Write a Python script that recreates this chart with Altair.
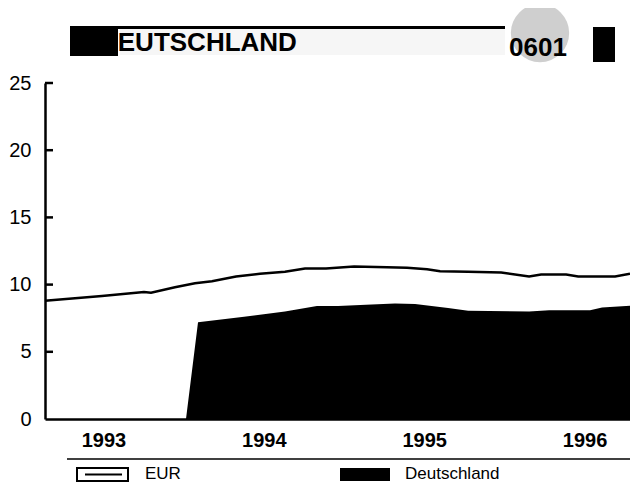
import altair as alt
import pandas as pd

# ---- data ----
eur_years = [1993.136, 1993.491, 1993.753, 1993.797, 1993.946, 1994.071, 1994.177,
             1994.327, 1994.476, 1994.632, 1994.757, 1994.888, 1995.063, 1995.268,
             1995.393, 1995.518, 1995.599, 1995.774, 1995.980, 1996.154, 1996.229,
             1996.385, 1996.460, 1996.690, 1996.783]
eur_values = [8.8, 9.15, 9.45, 9.4, 9.8, 10.1, 10.25, 10.6, 10.8, 10.95, 11.2, 11.2,
              11.35, 11.3, 11.25, 11.15, 11.0, 10.95, 10.9, 10.6, 10.75, 10.75, 10.6,
              10.6, 10.8]

de_years = [1993.136, 1994.015, 1994.090, 1994.377, 1994.632, 1994.831, 1994.963,
            1995.137, 1995.318, 1995.443, 1995.649, 1995.774, 1996.154, 1996.279,
            1996.534, 1996.609, 1996.783]
de_values = [0, 0, 7.2, 7.6, 8.0, 8.4, 8.4, 8.5, 8.6, 8.55, 8.25, 8.05, 8.0, 8.1,
             8.1, 8.3, 8.42]

year_labels = [1993, 1994, 1995, 1996]
y_ticks = [0, 5, 10, 15, 20, 25]
legend_labels = ["EUR", "Deutschland"]
header_title = "DEUTSCHLAND"
header_code = "0601"

x_domain = [eur_years[0], eur_years[-1]]
FONT = "Liberation Sans"

eur_df = pd.DataFrame({"year": eur_years, "value": eur_values})
de_df = pd.DataFrame({"year": de_years, "value": de_values})
tick_df = pd.DataFrame({"v": [t for t in y_ticks if t > 0]})
one = pd.DataFrame({"a": [0]})

xscale = alt.Scale(domain=x_domain, nice=False, zero=False)
yscale = alt.Scale(domain=[0, 25], nice=False)

xenc = alt.X("year:Q", scale=xscale,
             axis=alt.Axis(values=[y + 0.5 for y in year_labels],
                           labelExpr="'' + floor(datum.value)",
                           title=None, labelFontSize=20, labelFontWeight="bold",
                           labelPadding=11, labelFlush=False))
yenc = alt.Y("value:Q", scale=yscale,
             axis=alt.Axis(values=y_ticks, title=None, labelFontSize=20,
                           labelPadding=14))

area = alt.Chart(de_df).mark_area(color="black", interpolate="linear").encode(
    x=xenc, y=yenc)
line = alt.Chart(eur_df).mark_line(color="black", strokeWidth=2.5).encode(
    x=alt.X("year:Q", scale=xscale), y=alt.Y("value:Q", scale=yscale))
ticks = alt.Chart(tick_df).mark_rule(color="black", strokeWidth=2.5).encode(
    y=alt.Y("v:Q", scale=yscale), x=alt.value(0), x2=alt.value(8))


def rect(x, x2, y, y2, fill, stroke=None, sw=0):
    kw = dict(fill=fill)
    if stroke:
        kw.update(stroke=stroke, strokeWidth=sw)
    return alt.Chart(one).mark_rect(**kw).encode(
        x=alt.value(x), x2=alt.value(x2), y=alt.value(y), y2=alt.value(y2))


def hrule(x, x2, y, color, sw):
    return alt.Chart(one).mark_rule(color=color, strokeWidth=sw).encode(
        x=alt.value(x), x2=alt.value(x2), y=alt.value(y))


def text(x, y, s, size, weight="normal", align="left", baseline="middle"):
    return alt.Chart(one).mark_text(
        text=s, font=FONT, fontSize=size, fontWeight=weight, align=align,
        baseline=baseline, color="black").encode(x=alt.value(x), y=alt.value(y))


# header
header = [
    rect(75, 460, -54, -28, "#f6f6f6"),
    hrule(25, 460, -55.5, "black", 3),
    text(54, -32, header_title, 26, "bold", baseline="alphabetic"),
    rect(25, 73, -57, -27, "black"),
    alt.Chart(one).mark_point(filled=True, shape="circle", color="#cfcfcf",
                              opacity=1).encode(
        x=alt.value(495), y=alt.value(-50), size=alt.value(3400)),
    text(493, -27, header_code, 26, "bold", align="center", baseline="alphabetic"),
    rect(548, 570, -56, -21, "black"),
]

# legend
legend = [
    hrule(22, 585, 376, "black", 1.5),
    rect(32, 83, 385, 398, "white", "black", 2),
    hrule(40, 77, 391.5, "black", 2),
    text(100, 391, legend_labels[0], 17),
    rect(295, 345, 385, 398, "black"),
    text(360, 391, legend_labels[1], 17),
]

chart = alt.layer(area, line, ticks, *header, *legend).properties(
    width=585, height=336,
    autosize=alt.AutoSizeParams(type="none"),
    padding={"left": 37, "top": 75, "right": 0, "bottom": 64},
).configure_view(stroke=None).configure_axis(
    grid=False, domainColor="black", domainWidth=2.5, ticks=False, tickSize=0,
    labelColor="black", labelFont=FONT,
)

chart.save("out.html", embed_options={"renderer": "svg", "actions": False})
